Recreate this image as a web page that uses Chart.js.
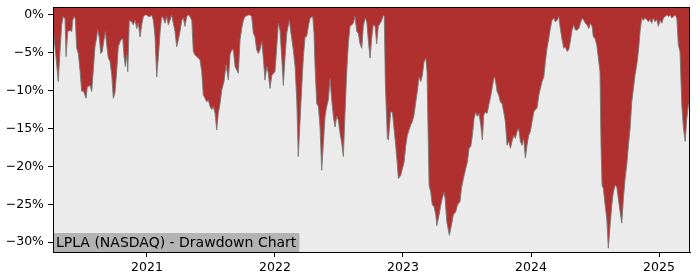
<!DOCTYPE html>
<html>
<head>
<meta charset="utf-8">
<script src="https://cdn.jsdelivr.net/npm/chart.js@4"></script>
<style>
  body { margin: 0; background: #fff; }
  #wrap { width: 700px; height: 280px; }
</style>
</head>
<body>
<div id="wrap"><canvas id="ddChart" width="700" height="280"></canvas></div>
<script>
const title = 'LPLA (NASDAQ) - Drawdown Chart';

// dates as decimal years
const dates = [
  2020.268, 2020.289, 2020.307, 2020.320, 2020.334, 2020.346, 2020.360, 2020.368, 2020.381, 2020.399,
  2020.412, 2020.420, 2020.430, 2020.440, 2020.451, 2020.464, 2020.477, 2020.490, 2020.503, 2020.524,
  2020.534, 2020.555, 2020.568, 2020.581, 2020.594, 2020.607, 2020.615, 2020.628, 2020.639, 2020.651,
  2020.664, 2020.675, 2020.686, 2020.698, 2020.711, 2020.725, 2020.737, 2020.750, 2020.764, 2020.776,
  2020.795, 2020.811, 2020.821, 2020.831, 2020.842, 2020.850, 2020.862, 2020.881, 2020.893, 2020.907,
  2020.920, 2020.932, 2020.946, 2020.959, 2020.972, 2020.985, 2020.998, 2021.011, 2021.024, 2021.037,
  2021.050, 2021.063, 2021.076, 2021.089, 2021.102, 2021.115, 2021.128, 2021.141, 2021.154, 2021.167,
  2021.180, 2021.193, 2021.206, 2021.219, 2021.232, 2021.245, 2021.258, 2021.272, 2021.284, 2021.297,
  2021.311, 2021.323, 2021.336, 2021.350, 2021.362, 2021.375, 2021.389, 2021.401, 2021.414, 2021.428,
  2021.440, 2021.454, 2021.467, 2021.479, 2021.493, 2021.506, 2021.518, 2021.532, 2021.545, 2021.557,
  2021.571, 2021.584, 2021.602, 2021.618, 2021.636, 2021.649, 2021.662, 2021.675, 2021.688, 2021.714,
  2021.727, 2021.740, 2021.753, 2021.766, 2021.792, 2021.805, 2021.818, 2021.831, 2021.844, 2021.857,
  2021.870, 2021.883, 2021.897, 2021.909, 2021.922, 2021.936, 2021.948, 2021.961, 2021.975, 2021.987,
  2022.000, 2022.014, 2022.026, 2022.039, 2022.053, 2022.065, 2022.079, 2022.092, 2022.112, 2022.125,
  2022.143, 2022.157, 2022.170, 2022.182, 2022.196, 2022.209, 2022.222, 2022.235, 2022.248, 2022.261,
  2022.274, 2022.295, 2022.305, 2022.313, 2022.326, 2022.339, 2022.352, 2022.365, 2022.378, 2022.391,
  2022.404, 2022.417, 2022.430, 2022.443, 2022.456, 2022.469, 2022.482, 2022.495, 2022.508, 2022.522,
  2022.534, 2022.547, 2022.561, 2022.573, 2022.586, 2022.600, 2022.612, 2022.625, 2022.639, 2022.651,
  2022.664, 2022.678, 2022.690, 2022.704, 2022.717, 2022.729, 2022.743, 2022.756, 2022.768, 2022.782,
  2022.795, 2022.807, 2022.821, 2022.834, 2022.847, 2022.854, 2022.862, 2022.878, 2022.886, 2022.904,
  2022.917, 2022.930, 2022.943, 2022.956, 2022.964, 2022.982, 2022.995, 2023.008, 2023.022, 2023.034,
  2023.047, 2023.061, 2023.073, 2023.086, 2023.100, 2023.112, 2023.125, 2023.139, 2023.151, 2023.164,
  2023.178, 2023.188, 2023.196, 2023.204, 2023.217, 2023.229, 2023.243, 2023.256, 2023.264, 2023.282,
  2023.295, 2023.307, 2023.321, 2023.329, 2023.342, 2023.352, 2023.362, 2023.378, 2023.393, 2023.412,
  2023.425, 2023.446, 2023.456, 2023.472, 2023.490, 2023.503, 2023.516, 2023.529, 2023.542, 2023.555,
  2023.568, 2023.581, 2023.594, 2023.607, 2023.620, 2023.631, 2023.643, 2023.657, 2023.670, 2023.682,
  2023.696, 2023.709, 2023.717, 2023.727, 2023.735, 2023.748, 2023.761, 2023.774, 2023.787, 2023.800,
  2023.813, 2023.826, 2023.839, 2023.852, 2023.865, 2023.878, 2023.891, 2023.904, 2023.917, 2023.930,
  2023.943, 2023.956, 2023.969, 2023.982, 2023.995, 2024.008, 2024.022, 2024.034, 2024.047, 2024.061,
  2024.073, 2024.086, 2024.100, 2024.112, 2024.125, 2024.139, 2024.151, 2024.164, 2024.178, 2024.190,
  2024.204, 2024.217, 2024.229, 2024.243, 2024.256, 2024.268, 2024.282, 2024.295, 2024.307, 2024.321,
  2024.334, 2024.347, 2024.360, 2024.373, 2024.386, 2024.399, 2024.412, 2024.425, 2024.438, 2024.451,
  2024.464, 2024.477, 2024.487, 2024.500, 2024.514, 2024.526, 2024.539, 2024.547, 2024.555, 2024.565,
  2024.579, 2024.592, 2024.604, 2024.618, 2024.631, 2024.643, 2024.657, 2024.670, 2024.682, 2024.696,
  2024.709, 2024.722, 2024.735, 2024.748, 2024.761, 2024.774, 2024.787, 2024.800, 2024.813, 2024.826,
  2024.839, 2024.852, 2024.865, 2024.878, 2024.891, 2024.904, 2024.917, 2024.930, 2024.943, 2024.956,
  2024.969, 2024.982, 2024.995, 2025.008, 2025.022, 2025.034, 2025.047, 2025.061, 2025.073, 2025.086,
  2025.100, 2025.112, 2025.125, 2025.139, 2025.151, 2025.164, 2025.178, 2025.190, 2025.204, 2025.217,
  2025.229, 2025.237
];

// drawdown from running peak, percent
const drawdown = [
  -2.0, -5.5, -8.8, -5.0, -1.3, -0.2, -0.5, -5.5, -2.2, -2.0,
  -2.2, -0.7, -0.2, -0.5, -4.4, -5.1, -7.3, -10.1, -10.0, -11.0,
  -9.5, -9.3, -10.1, -7.3, -4.2, -3.0, -2.0, -3.0, -5.1, -4.8,
  -3.3, -2.2, -4.0, -5.7, -6.1, -7.9, -11.0, -10.3, -7.3, -4.2,
  -3.3, -3.1, -5.5, -6.8, -5.3, -7.5, -0.7, -0.9, -1.3, -0.7,
  -1.8, -1.1, -2.9, -1.3, -0.2, 0, 0, -0.2, -0.2, 0,
  -0.7, -2.9, -8.2, -5.5, -2.4, -0.2, -0.4, -1.1, -0.2, -1.3,
  -0.7, 0, -1.1, -2.2, -4.2, -3.3, -2.2, -0.7, -0.4, -1.5,
  -0.2, 0, -0.2, -0.7, -4.8, -5.3, -5.5, -5.7, -5.9, -7.5,
  -10.6, -11.0, -11.5, -11.2, -12.1, -12.5, -12.1, -13.0, -15.2, -13.0,
  -11.7, -9.9, -8.8, -6.6, -8.6, -5.2, -4.6, -4.6, -6.8, -7.7,
  -3.3, -1.8, -0.7, -0.2, 0, 0, -0.2, -2.4, -2.9, -4.6,
  -5.1, -4.6, -3.5, -5.7, -8.6, -6.8, -7.7, -9.7, -8.0, -7.7,
  -7.5, -4.2, -1.1, -2.0, -5.7, -9.3, -5.5, -2.4, -0.7, -2.4,
  -4.6, -6.8, -11.2, -18.7, -14.0, -9.5, -5.5, -2.9, -2.8, -1.5,
  -0.4, -0.2, -2.4, -6.8, -11.7, -12.1, -14.8, -20.5, -17.0, -13.4,
  -12.1, -11.2, -8.4, -11.2, -13.4, -14.8, -13.4, -13.9, -15.6, -17.0,
  -18.7, -13.0, -7.3, -3.8, -1.5, -1.3, -1.1, -0.2, -2.2, -2.4,
  -3.8, -4.4, -1.5, -0.4, -0.9, -3.3, -5.7, -2.9, -1.3, -1.5,
  -3.8, -1.5, -1.1, -0.7, 0, -0.2, -9.0, -16.3, -16.5, -12.8,
  -12.8, -15.0, -17.2, -19.8, -21.6, -21.2, -20.3, -19.5, -17.2, -15.9,
  -15.2, -14.5, -14.1, -13.2, -11.5, -10.1, -8.2, -8.8, -8.0, -6.2,
  -5.7, -7.5, -15.4, -22.5, -23.4, -25.1, -25.3, -26.4, -27.8, -26.4,
  -25.1, -24.2, -23.4, -24.2, -27.3, -28.2, -29.1, -27.8, -26.4, -26.0,
  -25.1, -24.6, -22.9, -21.6, -20.3, -19.4, -17.6, -17.4, -15.9, -13.7,
  -12.8, -13.4, -13.0, -14.5, -16.5, -13.2, -12.8, -13.0, -11.9, -11.0,
  -9.7, -8.4, -8.2, -9.2, -10.1, -10.6, -11.5, -11.7, -12.8, -14.1,
  -17.2, -16.7, -17.6, -16.7, -15.9, -16.3, -15.4, -15.0, -16.7, -17.2,
  -16.3, -18.9, -17.2, -15.9, -15.4, -14.1, -12.8, -12.5, -12.3, -10.6,
  -9.7, -8.8, -8.2, -6.2, -4.4, -3.1, -1.8, -0.7, -0.4, -0.9,
  -0.7, -0.2, -1.8, -3.3, -4.4, -4.2, -4.8, -4.6, -3.5, -2.0,
  -1.3, -2.0, -2.0, -1.8, -1.1, -0.4, -0.7, -1.1, -1.3, -1.8,
  -1.1, -1.5, -2.9, -3.1, -4.0, -5.7, -7.5, -17.2, -22.5, -22.9,
  -25.1, -26.9, -30.8, -27.8, -25.1, -23.4, -22.5, -22.7, -24.2, -26.0,
  -27.5, -24.2, -21.6, -19.8, -17.2, -15.0, -11.5, -9.7, -7.9, -6.6,
  -4.8, -2.2, -0.4, -0.7, -0.4, -0.6, -0.9, -0.6, -1.1, -0.4,
  -0.9, -0.6, -1.5, -0.7, -1.1, -0.4, -0.2, 0, -0.2, 0,
  -0.4, -0.2, 0, -0.4, -4.0, -4.8, -11.9, -14.8, -16.7, -13.7,
  -11.9, -11.5
];

const yearTicks = [2021, 2022, 2023, 2024, 2025];
const pctTicks = [0, -5, -10, -15, -20, -25, -30];

const tickFont = { family: 'DejaVu Sans', size: 12.5 };

// plot background, title box and full frame
const framePlugin = {
  id: 'frame',
  beforeDatasetsDraw(chart) {
    const a = chart.chartArea, c = chart.ctx;
    c.save();
    c.fillStyle = '#ebebeb';
    c.fillRect(a.left, a.top, a.right - a.left, a.bottom - a.top);
    c.restore();
  },
  afterDatasetsDraw(chart) {
    const a = chart.chartArea, c = chart.ctx;
    c.save();
    c.font = '14px "DejaVu Sans"';
    const w = c.measureText(title).width;
    c.fillStyle = '#b3b3b3';
    c.fillRect(a.left, a.bottom - 19, w + 6, 19);
    c.fillStyle = '#000';
    c.textBaseline = 'middle';
    c.fillText(title, a.left + 3, a.bottom - 9);
    c.strokeStyle = '#000';
    c.lineWidth = 1;
    c.strokeRect(a.left + 0.5, a.top + 0.5, a.right - a.left - 1, a.bottom - a.top);
    c.restore();
  }
};

const ctx = document.getElementById('ddChart').getContext('2d');
const ddChart = new Chart(ctx, {
  type: 'line',
  data: {
    datasets: [{
      label: 'Drawdown',
      data: dates.map((d, i) => ({ x: d, y: drawdown[i] })),
      borderColor: 'rgba(120,120,120,0.9)',
      borderWidth: 1,
      backgroundColor: '#b03030',
      fill: 'end',
      pointRadius: 0,
      tension: 0
    }]
  },
  options: {
    responsive: false,
    animation: false,
    layout: { padding: { top: 7, right: 10, left: 0, bottom: 0 } },
    plugins: { legend: { display: false }, tooltip: { enabled: false } },
    scales: {
      x: {
        type: 'linear',
        min: 2020.266,
        max: 2025.242,
        afterBuildTicks: s => { s.ticks = yearTicks.map(v => ({ value: v })); },
        afterFit: s => { s.height = 28; s.paddingLeft = 0; s.paddingRight = 0; },
        grid: { drawOnChartArea: false, color: '#000', tickLength: 5 },
        border: { color: '#000' },
        ticks: { font: tickFont, color: '#000', padding: 3, maxRotation: 0, callback: v => String(v) }
      },
      y: {
        min: -31.3,
        max: 1.05,
        afterBuildTicks: s => { s.ticks = pctTicks.map(v => ({ value: v })); },
        afterFit: s => { s.width = 53; s.paddingTop = 0; s.paddingBottom = 0; },
        grid: { drawOnChartArea: false, color: '#000', tickLength: 5 },
        border: { color: '#000' },
        ticks: { font: tickFont, color: '#000', padding: 4,
          callback: v => (v < 0 ? '\u2212' : '') + Math.abs(v) + '%' }
      }
    }
  },
  plugins: [framePlugin]
});
</script>
</body>
</html>
